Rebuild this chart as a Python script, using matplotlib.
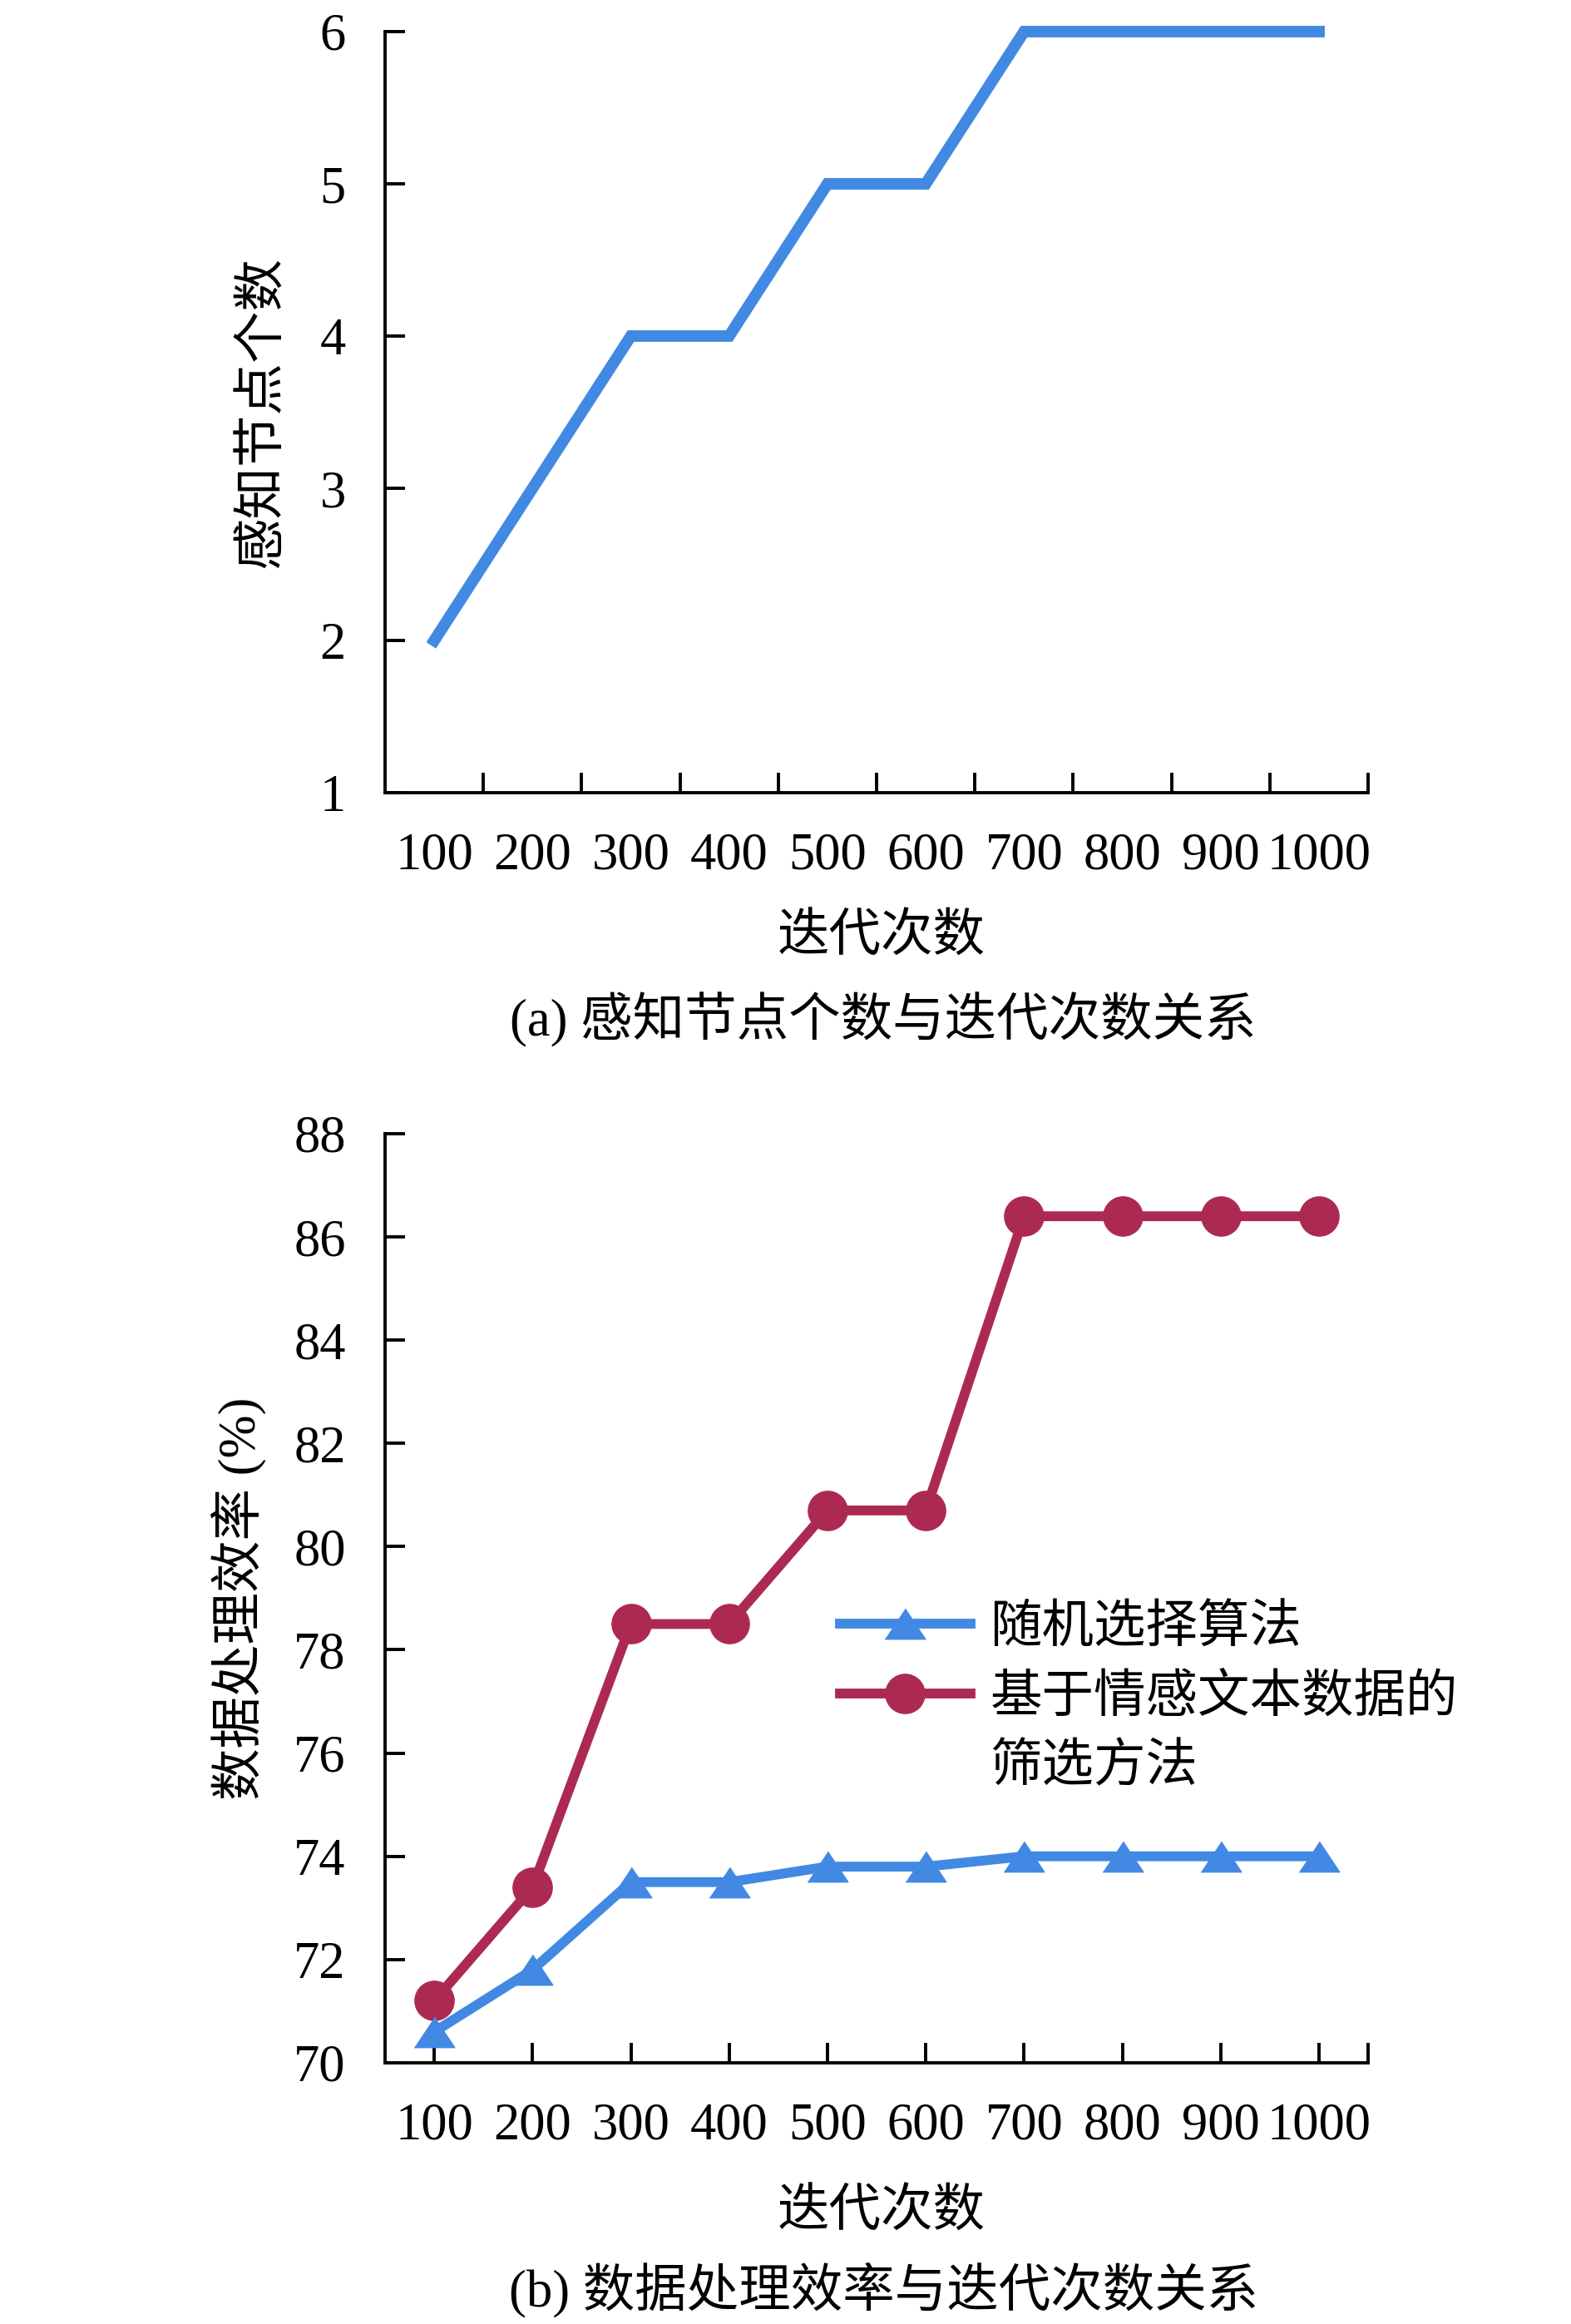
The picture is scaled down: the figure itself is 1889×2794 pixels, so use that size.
import numpy as np
import matplotlib
matplotlib.use("Agg")
from matplotlib import pyplot as plt
from matplotlib.lines import Line2D

plt.rcParams['font.family'] = ['Liberation Serif', 'Noto Sans CJK SC']

# ------------------------------------------------------------
# data
iterations = ['100', '200', '300', '400', '500', '600', '700', '800', '900', '1000']
sensing_nodes = [2, 3, 4, 4, 5, 5, 6, 6, 6, 6]
eff_random = [70.6, 71.8, 73.5, 73.5, 73.8, 73.8, 74.0, 74.0, 74.0, 74.0]
eff_emotion = [71.2, 73.4, 78.5, 78.5, 80.7, 80.7, 86.4, 86.4, 86.4, 86.4]

blue = '#4189E3'
red = '#AC2A52'
num_size = 45
cjk_size = 45

x = np.arange(1, len(iterations) + 1)

fig = plt.figure(figsize=(18.9, 27.94), dpi=100)


def style_axes(ax):
    for side in ('top', 'right'):
        ax.spines[side].set_visible(False)
    for side in ('left', 'bottom'):
        ax.spines[side].set_linewidth(2.8)
    ax.tick_params(which='major', direction='in', length=17, width=2.8,
                   labelsize=num_size)
    ax.tick_params(axis='y', pad=34)
    ax.tick_params(axis='x', pad=34)
    ax.set_xlim(0.5, len(iterations) + 0.5)


#------------------------------------------------------------
# (a) sensing nodes vs iterations
ax = fig.add_axes([0.245, 0.6589, 0.6254, 0.3275])
ax.plot(x, sensing_nodes, '-', color=blue, lw=10, solid_joinstyle='miter',
        clip_on=False)
style_axes(ax)
ax.set_ylim(1, 6)
ax.set_yticks(range(1, 7))
# ticks sit between the categories, labels at the centres
ax.set_xticks(np.arange(1.5, len(iterations) + 1, 1))
ax.set_xticklabels([])
ax.set_xticks(x, iterations, minor=True)
ax.tick_params(axis='x', which='minor', length=0, pad=34, labelsize=num_size)
ax.set_ylabel('感知节点个数', fontsize=cjk_size)
ax.yaxis.set_label_coords(-0.099, 0.5)
ax.set_xlabel('迭代次数', fontsize=cjk_size)
ax.xaxis.set_label_coords(0.505, -0.16)
fig.text(0.562, 0.561, '(a) 感知节点个数与迭代次数关系', fontsize=cjk_size,
         ha='center', va='center')

#------------------------------------------------------------
# (b) processing efficiency vs iterations
ax = fig.add_axes([0.245, 0.1124, 0.6254, 0.3998])
ax.plot(x, eff_emotion, '-o', color=red, lw=8.5, ms=34, clip_on=False,
        label='基于情感文本数据的')
tri = [(-1, -0.75), (1, -0.75), (0, 0.75)]
ax.plot(x, eff_random, '-', marker=tri, color=blue, lw=8.5, ms=35,
        clip_on=False, label='随机选择算法')
style_axes(ax)
ax.set_ylim(70, 88)
ax.set_yticks(range(70, 89, 2))
ax.set_xticks(list(x) + [len(iterations) + 0.5], iterations + [''])
ax.set_ylabel('数据处理效率 (%)', fontsize=cjk_size)
ax.yaxis.set_label_coords(-0.121, 0.5)
ax.set_xlabel('迭代次数', fontsize=cjk_size)
ax.xaxis.set_label_coords(0.505, -0.137)

h_red, h_blue = ax.get_lines()
blank = Line2D([], [], linestyle='none')
ax.legend([h_blue, h_red, blank], ['随机选择算法', '基于情感文本数据的', '筛选方法'],
          loc='upper left', bbox_to_anchor=(0.463, 0.492), frameon=False,
          fontsize=cjk_size, numpoints=1, handlelength=2.5,
          handletextpad=0.38, labelspacing=0.4, borderpad=0,
          borderaxespad=0)

fig.text(0.562, 0.0147, '(b) 数据处理效率与迭代次数关系', fontsize=cjk_size,
         ha='center', va='center')

fig.savefig('out.png', dpi=100)
